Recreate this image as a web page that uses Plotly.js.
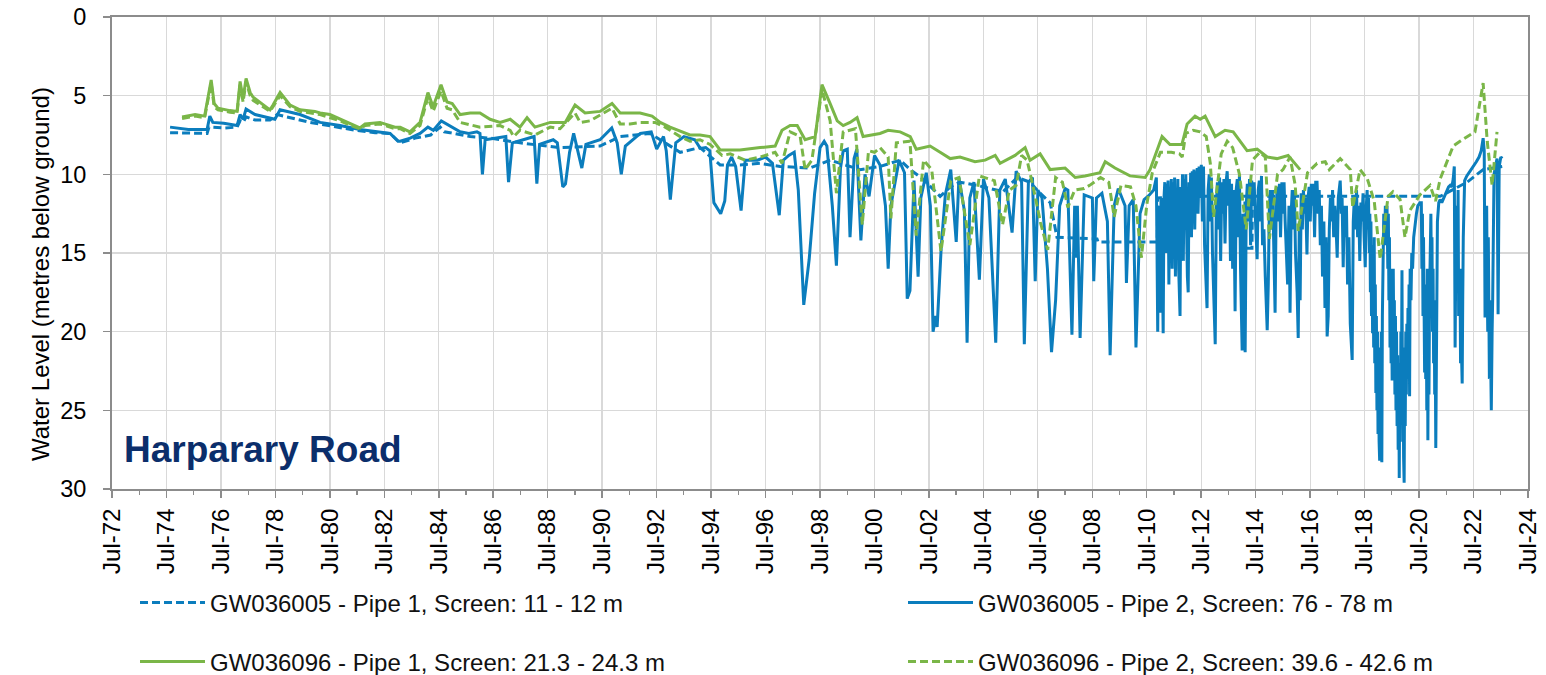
<!DOCTYPE html>
<html><head><meta charset="utf-8">
<script src="https://cdn.plot.ly/plotly-3.0.1.min.js"></script>
<style>html,body{margin:0;padding:0;background:#fff}#chart{width:1546px;height:675px}</style>
</head><body><div id="chart"></div>
<script>
// ---- data: [decimal year, water level (m below ground)] ----
const seriesNames = [
  "GW036005 - Pipe 1, Screen: 11 - 12 m",
  "GW036005 - Pipe 2, Screen: 76 - 78 m",
  "GW036096 - Pipe 1, Screen: 21.3 - 24.3 m",
  "GW036096 - Pipe 2, Screen: 39.6 - 42.6 m"
];

const gw036005_pipe1 = [[1974.63,7.35],[1975.36,7.4],[1975.99,7.4],[1976.06,7.0],[1976.65,7.05],[1977.09,7.0],[1977.2,6.6],[1977.31,6.7],[1977.42,6.35],[1977.75,6.55],[1978.3,6.55],[1978.56,6.2],[1979.04,6.4],[1979.77,6.7],[1980.62,6.95],[1981.42,7.2],[1982.16,7.35],[1982.71,7.4],[1983.08,8.0],[1983.63,7.7],[1984.2,7.5],[1984.55,7.0],[1984.7,7.3],[1984.91,7.35],[1985.65,7.6],[1986.38,7.7],[1987.48,8.0],[1988.95,8.3],[1990.42,8.2],[1991.16,7.6],[1992.26,7.4],[1993.36,8.6],[1994.09,8.3],[1994.83,9.4],[1995.56,9.4],[1996.3,9.3],[1997.03,9.5],[1998.13,9.6],[1998.87,9.1],[1999.97,9.7],[2000.7,9.5],[2001.44,9.1],[2001.81,9.7],[2002.28,10.3],[2002.91,11.4],[2003.28,10.8],[2003.64,10.5],[2004.27,10.7],[2004.74,10.9],[2005.22,11.1],[2005.74,10.2],[2006.21,10.5],[2006.58,11.2],[2006.95,11.8],[2007.2,14.0],[2008.67,14.1],[2008.71,14.3],[2010.88,14.3],[2010.9,11.5],[2012.46,11.4],[2014.1,11.4],[2014.12,14.7],[2014.36,14.7],[2014.38,11.4],[2021.27,11.4],[2022.26,10.5],[2022.85,9.7],[2023.55,9.5]];

const gw036005_pipe2 = [[1974.63,7.0],[1975.3,7.15],[1975.99,7.15],[1976.09,6.3],[1976.2,6.7],[1976.6,6.75],[1977.09,6.9],[1977.2,6.2],[1977.31,6.5],[1977.42,5.85],[1977.75,6.2],[1978.3,6.4],[1978.48,6.5],[1978.67,5.9],[1979.4,6.2],[1980.14,6.7],[1980.87,6.9],[1981.6,7.15],[1982.34,7.3],[1982.71,7.4],[1983.0,7.9],[1983.08,7.9],[1983.45,7.7],[1983.81,7.4],[1984.1,7.0],[1984.3,7.2],[1984.59,6.6],[1984.91,6.9],[1985.28,7.3],[1985.6,7.4],[1985.9,7.3],[1986.01,7.4],[1986.1,10.0],[1986.2,7.8],[1986.6,7.7],[1986.96,7.6],[1987.06,10.5],[1987.2,8.0],[1987.6,7.8],[1988.0,7.6],[1988.1,10.6],[1988.2,8.1],[1988.7,7.8],[1988.85,8.0],[1989.05,10.8],[1989.15,10.6],[1989.3,8.6],[1989.45,7.4],[1989.75,9.6],[1989.9,8.1],[1990.42,7.8],[1990.85,7.05],[1991.05,8.0],[1991.2,10.0],[1991.35,8.2],[1991.9,7.4],[1992.3,7.3],[1992.5,8.4],[1992.75,7.6],[1992.85,8.5],[1993.0,11.6],[1993.2,8.0],[1993.5,7.6],[1993.9,7.8],[1994.1,8.35],[1994.3,8.3],[1994.45,8.5],[1994.6,11.8],[1994.85,12.5],[1995.0,11.7],[1995.1,9.4],[1995.25,8.9],[1995.4,9.5],[1995.6,12.3],[1995.75,9.1],[1996.2,9.1],[1996.5,8.9],[1996.75,9.3],[1997.0,12.6],[1997.15,9.1],[1997.35,8.8],[1997.55,8.6],[1997.7,11.0],[1997.9,18.3],[1998.1,15.4],[1998.3,11.2],[1998.5,8.3],[1998.65,7.9],[1998.75,8.2],[1998.95,12.0],[1999.1,15.8],[1999.25,9.6],[1999.35,8.5],[1999.5,8.4],[1999.6,14.0],[1999.75,9.0],[1999.85,8.4],[2000.0,14.2],[2000.15,10.0],[2000.3,11.4],[2000.5,8.8],[2000.7,9.4],[2000.9,12.0],[2001.0,16.0],[2001.1,12.0],[2001.4,9.1],[2001.6,9.9],[2001.7,17.9],[2001.8,17.4],[2001.95,10.4],[2002.1,16.5],[2002.2,11.5],[2002.4,9.9],[2002.55,12.0],[2002.65,20.0],[2002.75,19.0],[2002.8,19.7],[2002.95,14.6],[2003.1,11.3],[2003.3,9.7],[2003.5,14.3],[2003.6,10.2],[2003.8,12.3],[2003.9,20.7],[2004.0,11.5],[2004.15,10.5],[2004.35,16.7],[2004.5,10.3],[2004.7,11.5],[2004.95,20.7],[2005.1,11.0],[2005.3,10.3],[2005.55,13.7],[2005.7,9.8],[2005.9,10.5],[2006.0,20.8],[2006.15,10.5],[2006.3,10.2],[2006.4,16.8],[2006.5,11.0],[2006.65,11.5],[2006.85,16.0],[2007.0,21.3],[2007.15,18.0],[2007.3,12.0],[2007.5,10.9],[2007.6,11.0],[2007.75,20.2],[2007.85,12.0],[2007.9,15.3],[2007.95,12.0],[2008.05,20.4],[2008.2,11.3],[2008.5,11.5],[2008.55,16.8],[2008.65,11.5],[2008.85,11.2],[2009.05,13.0],[2009.15,21.5],[2009.3,12.0],[2009.45,10.9],[2009.7,12.0],[2009.75,16.9],[2009.85,12.0],[2010.0,11.6],[2010.1,21.0],[2010.25,12.5],[2010.4,11.6],[2010.6,11.3],[2010.75,11.0],
[2010.85,10.2],[2010.88,17.0],[2010.9,20.0],[2010.93,12.0],[2010.96,17.5],[2010.99,18.8],[2011.02,11.5],[2011.05,13.0],[2011.08,17.0],[2011.1,20.1],[2011.13,11.5],[2011.16,10.5],[2011.19,15.0],[2011.22,10.6],[2011.25,13.5],[2011.28,10.4],[2011.31,17.0],[2011.34,10.8],[2011.37,12.5],[2011.4,10.3],[2011.43,16.0],[2011.46,10.5],[2011.49,14.0],[2011.52,10.2],[2011.55,16.5],[2011.58,11.0],[2011.61,13.0],[2011.64,10.3],[2011.67,16.0],[2011.7,18.0],[2011.72,19.0],[2011.75,10.8],[2011.78,13.5],[2011.81,10.0],[2011.84,15.5],[2011.87,10.3],[2011.9,12.5],[2011.93,10.0],[2011.96,15.0],[2011.99,16.5],[2012.02,17.5],[2012.05,10.5],[2012.08,12.5],[2012.11,9.9],[2012.14,14.0],[2012.17,9.8],[2012.2,12.0],[2012.23,9.7],[2012.26,13.5],[2012.29,9.8],[2012.32,11.5],[2012.35,9.6],[2012.38,12.5],[2012.42,9.5],[2012.46,11.5],[2012.5,9.4],[2012.54,13.0],[2012.58,9.5],[2012.62,14.5],[2012.66,16.0],[2012.71,18.5],[2012.75,11.0],[2012.79,10.0],[2012.83,13.0],[2012.87,10.2],[2012.91,15.0],[2012.95,17.0],[2013.01,20.8],[2013.05,12.0],[2013.09,10.5],[2013.13,13.5],[2013.17,10.2],[2013.21,15.5],[2013.25,10.5],[2013.29,12.5],[2013.33,10.3],[2013.37,14.4],[2013.41,10.5],[2013.45,9.8],[2013.49,12.0],[2013.53,10.3],[2013.57,15.5],[2013.61,10.6],[2013.65,16.0],[2013.69,11.0],[2013.74,18.7],[2013.78,11.0],[2013.82,10.3],[2013.86,14.0],[2013.9,10.0],[2013.94,16.0],[2014.0,21.2],[2014.03,12.5],[2014.07,17.0],[2014.11,21.3],[2014.15,12.0],[2014.19,10.6],[2014.23,13.0],[2014.27,10.3],[2014.31,14.5],[2014.35,10.4],[2014.4,12.0],[2014.44,10.5],[2014.48,12.5],[2014.52,14.0],[2014.55,15.4],[2014.59,11.0],[2014.63,10.4],[2014.67,13.0],[2014.71,10.1],[2014.75,14.5],[2014.8,13.5],[2014.85,16.5],[2014.92,19.9],[2014.96,17.0],[2015.0,12.0],[2015.04,11.0],[2015.08,13.5],[2015.12,11.0],[2015.16,15.0],[2015.21,18.8],[2015.25,12.0],[2015.29,10.8],[2015.33,13.0],[2015.37,10.6],[2015.41,14.0],[2015.46,10.5],[2015.5,12.5],[2015.54,10.5],[2015.58,13.0],[2015.62,15.5],[2015.67,17.0],[2015.72,12.0],[2015.76,18.8],[2015.8,12.5],[2015.84,11.0],[2015.88,13.5],[2015.92,11.0],[2015.96,15.0],[2016.02,17.5],[2016.06,20.4],[2016.1,13.0],[2016.13,18.0],[2016.17,11.2],[2016.21,13.5],[2016.25,11.0],[2016.29,12.5],[2016.33,11.5],[2016.38,15.1],[2016.42,11.5],[2016.46,10.8],[2016.5,13.0],[2016.54,10.6],[2016.58,12.0],[2016.62,10.6],[2016.66,14.0],[2016.7,10.5],[2016.75,10.5],[2016.79,12.5],[2016.83,11.0],[2016.87,14.5],[2016.91,12.0],[2016.95,16.5],[2017.0,13.0],[2017.04,18.5],[2017.08,14.0],[2017.12,20.3],[2017.16,19.0],[2017.2,13.5],[2017.24,11.5],[2017.28,13.0],[2017.32,11.0],[2017.36,14.0],[2017.4,12.0],[2017.45,13.5],[2017.49,15.3],[2017.53,11.5],[2017.57,10.6],[2017.6,10.4],[2017.64,12.5],[2017.67,11.5],[2017.71,15.9],[2017.75,12.0],[2017.79,14.0],[2017.83,12.0],[2017.87,17.0],[2017.92,14.0],[2017.97,19.5],[2018.04,21.8],[2018.08,13.0],[2018.12,11.5],[2018.16,13.5],[2018.2,11.0],[2018.24,14.0],[2018.28,12.0],[2018.32,15.5],[2018.36,11.8],[2018.4,13.0],[2018.44,11.2],[2018.48,14.0],[2018.52,15.9],[2018.56,12.0],
[2018.59,11.0],[2018.62,13.5],[2018.64,11.5],[2018.67,15.0],[2018.69,12.5],[2018.71,17.5],[2018.73,13.0],[2018.75,19.0],[2018.77,14.5],[2018.79,20.1],[2018.81,16.0],[2018.83,21.0],[2018.85,14.0],[2018.87,22.0],[2018.89,17.0],[2018.91,23.9],[2018.93,19.0],[2018.95,25.0],[2018.97,20.0],[2018.99,26.5],[2019.01,22.0],[2019.03,27.0],[2019.05,28.2],[2019.07,21.0],[2019.09,25.5],[2019.11,20.0],[2019.13,28.3],[2019.15,19.0],[2019.17,15.0],[2019.2,12.5],[2019.23,14.5],[2019.26,12.0],[2019.29,13.5],[2019.32,12.0],[2019.35,16.0],[2019.37,12.5],[2019.39,18.0],[2019.41,14.0],[2019.43,21.0],[2019.45,16.0],[2019.47,22.0],[2019.49,18.0],[2019.51,23.1],[2019.53,17.0],[2019.55,16.0],[2019.57,21.0],[2019.59,18.0],[2019.61,24.0],[2019.63,19.0],[2019.65,25.0],[2019.67,20.0],[2019.69,26.0],[2019.71,21.5],[2019.73,27.5],[2019.75,22.0],[2019.77,29.3],[2019.79,23.0],[2019.81,27.0],[2019.83,20.0],[2019.85,24.0],[2019.87,16.1],[2019.89,25.0],[2019.91,21.0],[2019.93,28.0],[2019.95,29.6],[2019.97,22.0],[2019.99,26.0],[2020.01,20.0],[2020.03,24.0],[2020.05,19.5],[2020.07,23.0],[2020.09,18.5],[2020.11,22.0],[2020.13,17.0],[2020.15,24.1],[2020.17,16.0],[2020.2,18.0],[2020.23,15.0],[2020.26,16.0],[2020.3,14.0],[2020.35,13.0],[2020.4,12.5],[2020.45,12.0],[2020.53,11.8],
[2020.58,11.8],[2020.6,16.0],[2020.62,12.5],[2020.64,19.0],[2020.66,14.0],[2020.68,21.0],[2020.7,22.6],[2020.72,17.0],[2020.74,23.0],[2020.76,18.0],[2020.78,25.0],[2020.8,16.0],[2020.82,26.9],[2020.84,19.0],[2020.86,24.0],[2020.88,18.0],[2020.9,14.0],[2020.93,12.5],[2020.95,17.0],[2020.97,14.0],[2020.99,20.0],[2021.01,16.0],[2021.03,22.0],[2021.05,18.0],[2021.07,24.0],[2021.09,21.0],[2021.11,27.4],[2021.13,22.0],[2021.15,18.0],[2021.17,13.0],
[2021.22,11.8],[2021.27,11.6],[2021.33,11.8],[2021.38,11.6],[2021.45,11.3],[2021.52,11.0],[2021.58,10.8],[2021.64,10.7],[2021.7,10.8],[2021.75,10.3],[2021.79,9.5],[2021.82,21.0],[2021.84,14.0],[2021.86,12.0],[2021.88,17.0],[2021.9,16.0],[2021.93,11.0],[2021.95,19.0],[2021.97,18.0],[2022.0,16.0],[2022.02,22.0],[2022.05,21.0],[2022.08,23.3],[2022.1,18.0],[2022.12,14.0],[2022.17,10.4],[2022.25,10.1],[2022.37,9.8],[2022.5,9.5],[2022.6,9.2],[2022.7,8.9],[2022.78,8.5],[2022.85,7.7],[2022.89,8.5],[2022.92,19.1],[2022.94,13.0],[2022.96,18.0],[2022.98,12.0],[2023.0,17.0],[2023.02,20.0],[2023.04,14.0],[2023.06,21.0],[2023.08,23.0],[2023.1,18.0],[2023.12,24.0],[2023.15,25.0],[2023.18,20.0],[2023.2,18.0],[2023.25,10.0],[2023.3,9.5],[2023.36,9.0],[2023.4,18.9],[2023.44,9.5],[2023.5,8.9],[2023.55,9.0]];

const gw036096_pipe1 = [[1975.07,6.35],[1975.55,6.2],[1975.9,6.3],[1976.14,4.0],[1976.25,5.5],[1976.39,5.8],[1976.83,5.95],[1977.09,6.0],[1977.2,4.1],[1977.31,5.2],[1977.42,3.9],[1977.57,4.8],[1977.68,5.1],[1978.12,5.7],[1978.3,5.9],[1978.41,5.6],[1978.67,4.8],[1979.04,5.6],[1979.4,5.9],[1979.95,6.0],[1980.14,6.1],[1980.5,6.2],[1980.87,6.5],[1981.42,6.9],[1981.6,7.05],[1981.79,6.8],[1982.34,6.7],[1982.89,7.0],[1983.08,7.0],[1983.44,7.3],[1983.81,6.7],[1984.1,4.8],[1984.29,5.7],[1984.58,4.3],[1984.8,5.4],[1984.99,5.5],[1985.28,6.2],[1985.65,6.1],[1986.01,6.1],[1986.38,6.5],[1986.75,6.7],[1987.12,6.5],[1987.48,7.0],[1987.74,6.4],[1988.03,7.0],[1988.59,6.7],[1989.14,6.7],[1989.5,5.6],[1989.87,6.1],[1990.42,6.0],[1990.86,5.5],[1991.16,6.1],[1991.89,6.1],[1992.33,6.3],[1992.63,6.7],[1992.99,7.0],[1993.72,7.5],[1994.09,7.5],[1994.46,7.6],[1994.83,8.45],[1995.56,8.45],[1996.3,8.3],[1996.85,8.2],[1997.1,7.2],[1997.4,6.9],[1997.66,6.9],[1997.95,7.8],[1998.32,7.6],[1998.57,4.3],[1998.87,5.5],[1999.13,6.6],[1999.35,6.9],[1999.6,6.7],[1999.86,6.4],[2000.08,7.6],[2000.7,7.4],[2001.0,7.2],[2001.44,7.3],[2001.81,7.6],[2002.03,8.4],[2002.54,8.2],[2002.91,8.6],[2003.28,9.0],[2003.64,8.9],[2004.19,9.2],[2004.56,9.1],[2004.93,8.8],[2005.11,9.3],[2005.66,8.8],[2006.03,8.3],[2006.21,9.1],[2006.58,8.7],[2006.95,9.7],[2007.5,9.6],[2007.87,10.2],[2008.23,10.1],[2008.78,9.9],[2008.97,9.2],[2009.33,9.6],[2009.88,10.1],[2010.44,10.2],[2010.62,9.7],[2011.06,7.6],[2011.35,8.1],[2011.79,8.1],[2011.98,6.8],[2012.27,6.3],[2012.46,6.5],[2012.64,6.3],[2013.01,7.6],[2013.37,7.2],[2013.67,7.3],[2014.18,8.5],[2014.55,8.4],[2014.92,8.9],[2015.28,9.0],[2015.69,8.8],[2016.13,9.7]];

const gw036096_pipe2 = [[1975.07,6.45],[1975.55,6.3],[1975.9,6.4],[1976.14,4.2],[1976.25,5.7],[1976.39,5.9],[1976.83,6.05],[1977.09,6.1],[1977.2,4.3],[1977.31,5.4],[1977.42,4.1],[1977.57,5.0],[1977.68,5.3],[1978.12,5.8],[1978.3,6.0],[1978.41,5.7],[1978.67,5.0],[1979.04,5.7],[1979.4,6.0],[1980.14,6.2],[1980.87,6.6],[1981.42,7.0],[1981.6,7.1],[1981.79,6.9],[1982.34,6.8],[1982.89,7.1],[1983.08,7.1],[1983.44,7.4],[1983.81,6.9],[1984.1,5.1],[1984.29,6.0],[1984.58,4.7],[1984.8,5.8],[1984.99,5.9],[1985.28,6.7],[1986.01,7.0],[1986.75,6.9],[1987.12,7.2],[1987.25,7.6],[1987.48,7.2],[1988.03,7.5],[1988.59,7.0],[1988.95,7.1],[1989.5,6.1],[1989.69,6.7],[1990.05,6.6],[1990.86,5.8],[1991.16,6.8],[1991.52,6.8],[1991.89,6.7],[1992.44,6.7],[1992.81,7.0],[1993.36,7.6],[1993.72,7.9],[1994.09,7.8],[1994.46,8.1],[1994.9,8.8],[1995.2,8.7],[1995.75,9.1],[1996.3,8.9],[1996.85,8.6],[1997.1,9.3],[1997.4,7.3],[1997.77,7.6],[1997.95,9.7],[1998.2,9.1],[1998.57,4.6],[1998.87,6.6],[1999.1,11.2],[1999.35,7.3],[1999.6,7.2],[1999.8,7.1],[2000.05,13.2],[2000.28,8.5],[2000.5,8.6],[2000.7,8.3],[2001.0,8.9],[2001.1,12.8],[2001.3,8.0],[2001.8,7.9],[2002.03,13.9],[2002.3,9.1],[2002.6,9.7],[2002.94,14.9],[2003.3,10.4],[2003.6,10.2],[2004.0,14.5],[2004.35,10.1],[2004.9,10.4],[2005.2,13.2],[2005.45,11.0],[2005.7,10.7],[2005.9,8.8],[2006.1,9.1],[2006.3,10.6],[2006.6,13.1],[2006.86,14.8],[2007.15,10.2],[2007.4,10.5],[2007.6,12.1],[2007.85,11.0],[2008.2,10.9],[2008.4,10.7],[2008.8,10.2],[2009.1,10.5],[2009.3,12.7],[2009.55,10.7],[2009.9,10.8],[2010.1,12.0],[2010.3,15.3],[2010.5,11.9],[2010.7,9.9],[2011.0,8.6],[2011.4,8.6],[2011.7,8.7],[2011.8,8.9],[2011.93,7.4],[2012.2,7.2],[2012.46,7.3],[2012.68,7.6],[2012.83,9.3],[2012.95,12.7],[2013.23,8.7],[2013.45,7.9],[2013.65,8.3],[2013.9,10.0],[2014.15,13.5],[2014.38,9.1],[2014.65,8.6],[2014.85,8.9],[2015.0,14.1],[2015.3,10.0],[2015.5,9.7],[2015.76,8.9],[2015.95,10.7],[2016.06,13.6],[2016.4,9.9],[2016.75,9.3],[2017.05,9.2],[2017.2,9.7],[2017.6,9.0],[2017.97,9.7],[2018.06,12.1],[2018.33,9.7],[2018.6,10.3],[2018.85,11.7],[2019.07,15.4],[2019.36,11.4],[2019.54,11.1],[2019.8,11.6],[2019.98,14.0],[2020.16,12.3],[2020.53,11.3],[2020.9,10.7],[2021.1,11.7],[2021.27,10.3],[2021.75,8.2],[2022.0,7.9],[2022.55,7.3],[2022.85,4.2],[2023.0,7.9],[2023.18,10.7],[2023.36,7.3]];

const yTickVals = [0,5,10,15,20,25,30];
const chartTitle = "Harparary Road";
const yTitle = "Water Level (metres below ground)";

// ---- helpers ----
function toDate(y){
  const Y = Math.floor(y);
  const s = Date.UTC(Y,0,1), e = Date.UTC(Y+1,0,1);
  return new Date(s + (y - Y)*(e - s)).toISOString().slice(0,19);
}
const xs = d => d.map(p => toDate(p[0]));
const ys = d => d.map(p => p[1]);
const blue = '#0b7dbd', green = '#7ab648';
const FONT = 'Liberation Sans, Arial, sans-serif';
const LW = 3;

const traces = [
  {x:xs(gw036005_pipe1), y:ys(gw036005_pipe1), name:seriesNames[0], legend:'legend',
   mode:'lines', line:{color:blue, width:LW, dash:'8px,4px'}},
  {x:xs(gw036005_pipe2), y:ys(gw036005_pipe2), name:seriesNames[1], legend:'legend2',
   mode:'lines', line:{color:blue, width:LW}},
  {x:xs(gw036096_pipe1), y:ys(gw036096_pipe1), name:seriesNames[2], legend:'legend3',
   mode:'lines', line:{color:green, width:LW}},
  {x:xs(gw036096_pipe2), y:ys(gw036096_pipe2), name:seriesNames[3], legend:'legend4',
   mode:'lines', line:{color:green, width:LW, dash:'8px,4px'}}
];

function leg(xpx, ypx){
  return {xref:'container', yref:'container', x:xpx/1546, y:1-ypx/675,
    xanchor:'left', yanchor:'middle', orientation:'h', itemwidth:65,
    font:{family:FONT, size:24, color:'#111'}, bgcolor:'rgba(0,0,0,0)', borderwidth:0};
}

const layout = {
  width:1546, height:675,
  margin:{l:112, r:18, t:17, b:186},
  paper_bgcolor:'#fff', plot_bgcolor:'#fff',
  font:{family:FONT, size:24, color:'#000'},
  showlegend:true,
  legend: leg(135, 603),
  legend2: leg(903, 603),
  legend3: leg(135, 662),
  legend4: leg(903, 662),
  xaxis:{
    type:'date', range:['1972-07-01','2024-07-01'],
    tick0:'1972-07-01', dtick:'M24', tickformat:'%b-%y', tickangle:-90,
    ticks:'outside', ticklen:7, tickwidth:1.5, tickcolor:'#8c8c8c',
    showgrid:true, gridcolor:'#d9d9d9', gridwidth:1.3,
    showline:true, linecolor:'#8c8c8c', linewidth:2, mirror:true,
    zeroline:false, ticklabelstandoff:1,
    tickfont:{family:FONT, size:24, color:'#000'},
    minor:{dtick:'M12', tick0:'1972-07-01', ticks:'outside', ticklen:4, tickcolor:'#8c8c8c', tickwidth:1.2, showgrid:false}
  },
  yaxis:{
    range:[30,0], tickvals:yTickVals, ticks:'outside', ticklen:7, tickwidth:1.5, tickcolor:'#8c8c8c',
    showgrid:true, gridcolor:'#d9d9d9', gridwidth:1.3,
    showline:true, linecolor:'#8c8c8c', linewidth:2, mirror:true, zeroline:false,
    ticklabelstandoff:12,
    tickfont:{family:FONT, size:23.5, color:'#000'}
  },
  annotations:[
    {text:chartTitle, xref:'paper', yref:'paper', x:(122-112)/1416, y:(489-449)/472,
     xanchor:'left', yanchor:'middle', showarrow:false,
     font:{family:FONT, size:37, color:'#0b2e6b', weight:'bold'}},
    {text:yTitle, xref:'paper', yref:'paper', x:(40-112)/1416, y:(489-274)/472,
     xanchor:'center', yanchor:'middle', showarrow:false, textangle:-90,
     font:{family:FONT, size:24, color:'#000'}}
  ]
};

Plotly.newPlot('chart', traces, layout, {displayModeBar:false, staticPlot:true});
</script></body></html>
